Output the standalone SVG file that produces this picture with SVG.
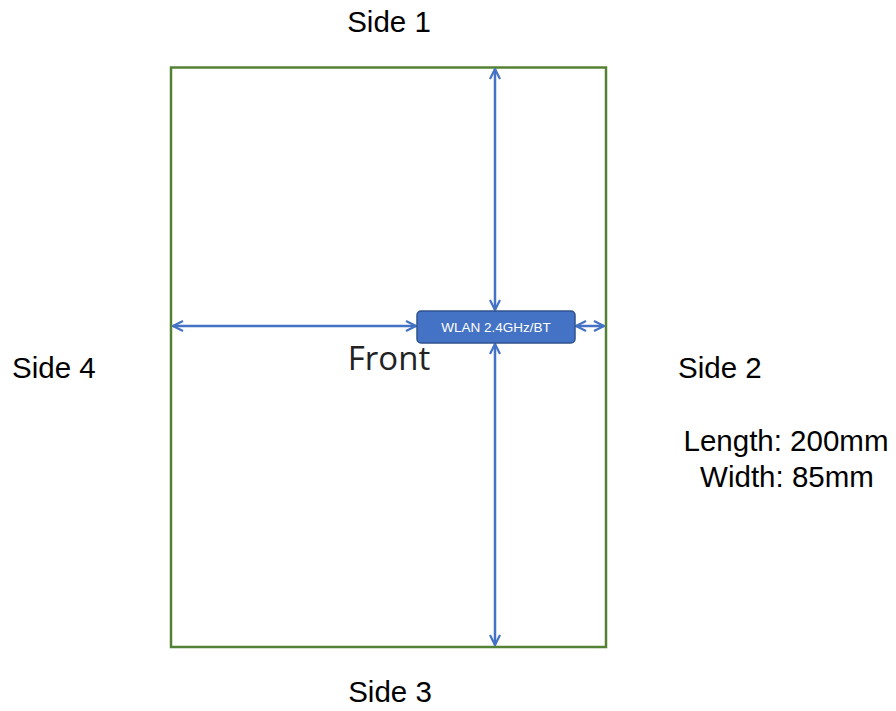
<svg xmlns="http://www.w3.org/2000/svg" width="896" height="711" viewBox="0 0 896 711">
<style>
.lbl{font-family:"Liberation Sans",Arial,sans-serif;font-size:29.5px;fill:#000}
.conn{stroke:#4472C4;stroke-width:2.5;fill:none}
</style>
<defs>
<marker id="ah" viewBox="0 0 12 12" refX="11" refY="6" markerWidth="12" markerHeight="12" markerUnits="userSpaceOnUse" orient="auto-start-reverse">
<path d="M1,1 L11,6 L1,11" fill="none" stroke="#4472C4" stroke-width="2.2"/>
</marker>
</defs>
<rect width="896" height="711" fill="#fff"/>
<g id="board">
<rect x="171" y="67.5" width="435" height="579.5" fill="none" stroke="#548235" stroke-width="2.5"/>
</g>
<g id="connectors">
<line class="conn" x1="495" y1="69" x2="495" y2="310" marker-start="url(#ah)" marker-end="url(#ah)"/>
<line class="conn" x1="495" y1="344" x2="495" y2="645" marker-start="url(#ah)" marker-end="url(#ah)"/>
<line class="conn" x1="173" y1="326" x2="416" y2="326" marker-start="url(#ah)" marker-end="url(#ah)"/>
<line class="conn" x1="576" y1="326" x2="604" y2="326" marker-start="url(#ah)" marker-end="url(#ah)"/>
</g>
<g id="wlan">
<rect x="417" y="311" width="158" height="32" rx="4" fill="#4472C4" stroke="#2F528F" stroke-width="1.5"/>
<text x="496" y="332" text-anchor="middle" font-family="'Liberation Sans',Arial,sans-serif" font-size="13.5" fill="#fff">WLAN 2.4GHz/BT</text>
</g>
<text x="389" y="370" text-anchor="middle" font-family="'Open Sans','Noto Sans',sans-serif" font-size="33" fill="#222">Front</text>
<text class="lbl" x="389" y="32" text-anchor="middle">Side 1</text>
<text class="lbl" x="12" y="378">Side 4</text>
<text class="lbl" x="678" y="378">Side 2</text>
<text class="lbl" x="390" y="702" text-anchor="middle">Side 3</text>
<text class="lbl" x="786" y="451" text-anchor="middle">Length: 200mm</text>
<text class="lbl" x="787" y="487" text-anchor="middle">Width: 85mm</text>
</svg>
